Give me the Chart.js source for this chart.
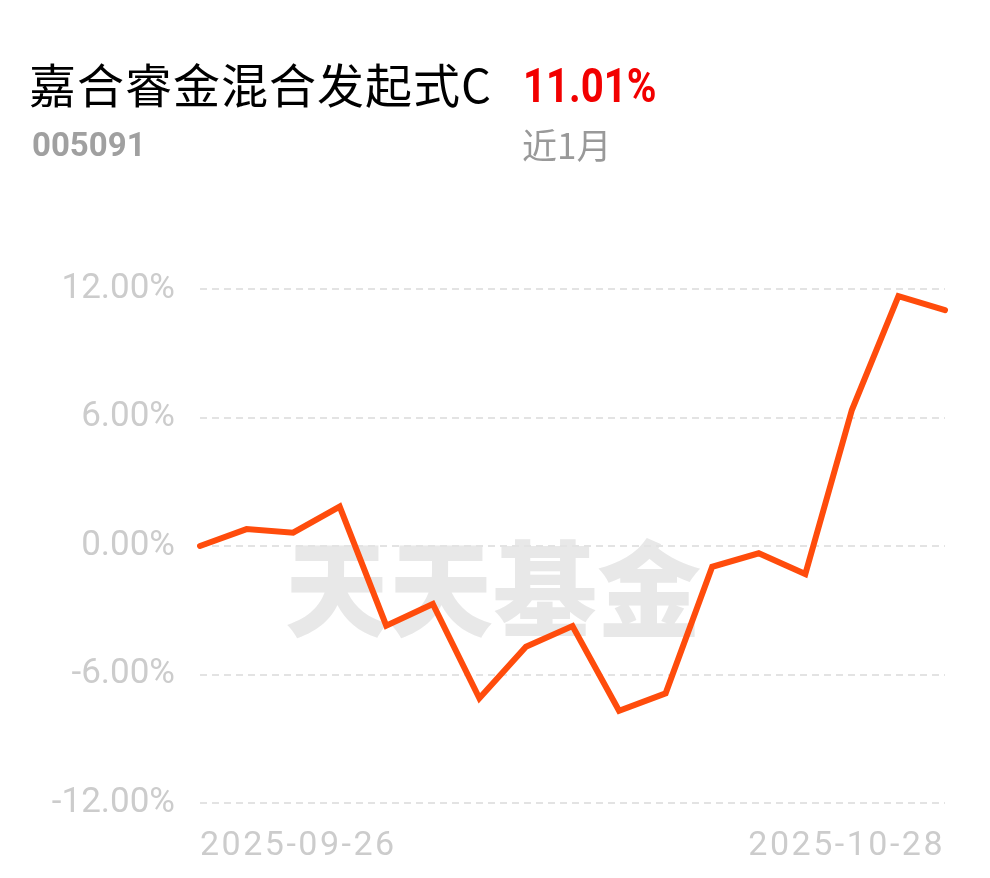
<!DOCTYPE html>
<html>
<head>
<meta charset="utf-8">
<script src="https://cdn.jsdelivr.net/npm/chart.js@4/dist/chart.umd.min.js"></script>
<style>
  html, body { margin: 0; padding: 0; background: #ffffff; }
  #wrap { position: relative; width: 990px; height: 878px; overflow: hidden; background: #fff; }
  #wm { position: absolute; left: 285px; top: 532px; font-family: "Noto Sans CJK SC"; font-weight: 900;
        font-size: 104px; line-height: 104px; color: #e8e8e8; white-space: nowrap; }
  #cv { position: absolute; left: 0; top: 0; }
  .t { position: absolute; white-space: nowrap; }
  #title { left: 29px; top: 59px; font-family: "Noto Sans CJK SC"; font-size: 47px; line-height: 47px; color: #000; letter-spacing: 1px; }
  #ret { left: 523px; top: 61px; font-family: Roboto; font-weight: 700; font-size: 49px; line-height: 49px; color: #f20000;
         transform: scaleX(0.82); transform-origin: left top; }
  #code { left: 32px; top: 128px; font-family: Roboto; font-weight: 700; font-size: 33px; line-height: 33px; color: #a0a0a0; }
  #period { left: 522px; top: 126px; font-family: "Noto Sans CJK SC"; font-size: 35px; line-height: 35px; color: #999; }
</style>
</head>
<body>
<div id="wrap">
  <div id="wm">天天基金</div>
  <canvas id="cv" width="990" height="878"></canvas>
  <div class="t" id="title">嘉合睿金混合发起式C</div>
  <div class="t" id="ret">11.01%</div>
  <div class="t" id="code">005091</div>
  <div class="t" id="period">近1月</div>
</div>
<script>
const dates = ["2025-09-26","2025-09-29","2025-09-30","2025-10-09","2025-10-10","2025-10-13","2025-10-14","2025-10-15","2025-10-16","2025-10-17","2025-10-20","2025-10-21","2025-10-22","2025-10-23","2025-10-24","2025-10-27","2025-10-28"];
const returns = [0.00, 0.79, 0.62, 1.84, -3.72, -2.71, -7.11, -4.70, -3.74, -7.69, -6.88, -0.97, -0.34, -1.31, 6.35, 11.67, 11.01];
const yTicks = [-12, -6, 0, 6, 12];

const spacingPlugin = {
  id: 'xLabelSpacing',
  afterDatasetsDraw(chart) { chart.ctx.letterSpacing = '2.5px'; },
  afterDraw(chart) { chart.ctx.letterSpacing = '0px'; }
};

new Chart(document.getElementById('cv'), {
  type: 'line',
  data: {
    labels: dates,
    datasets: [{
      data: returns,
      borderColor: '#ff4c0c',
      borderWidth: 6,
      borderCapStyle: 'round',
      borderJoinStyle: 'miter',
      pointRadius: 0,
      pointHoverRadius: 0,
      tension: 0,
      fill: false
    }]
  },
  options: {
    responsive: false,
    animation: false,
    devicePixelRatio: 1,
    layout: { padding: { top: 289, right: 45, left: 0, bottom: 0 } },
    plugins: { legend: { display: false }, tooltip: { enabled: false } },
    scales: {
      x: {
        offset: false,
        grid: { display: false, drawTicks: false },
        border: { display: false },
        afterFit(scale) { scale.height = 75; },
        ticks: {
          autoSkip: false,
          maxRotation: 0,
          align: 'inner',
          padding: 23,
          z: 1,
          color: '#cccccc',
          font: { family: 'Roboto', size: 34 },
          callback(v, i) { return (i === 0 || i === dates.length - 1) ? dates[i] : ''; }
        }
      },
      y: {
        min: -12,
        max: 12,
        afterFit(scale) { scale.width = 200; },
        afterBuildTicks(scale) { scale.ticks = yTicks.map(v => ({ value: v })); },
        grid: { color: '#e3e3e3', lineWidth: 2, drawTicks: false },
        border: { display: false, dash: [7, 5] },
        ticks: {
          padding: 25,
          color: '#cccccc',
          font: { family: 'Roboto', size: 35 },
          callback(v) { return v.toFixed(2) + '%'; }
        }
      }
    }
  },
  plugins: [spacingPlugin]
});
</script>
</body>
</html>
